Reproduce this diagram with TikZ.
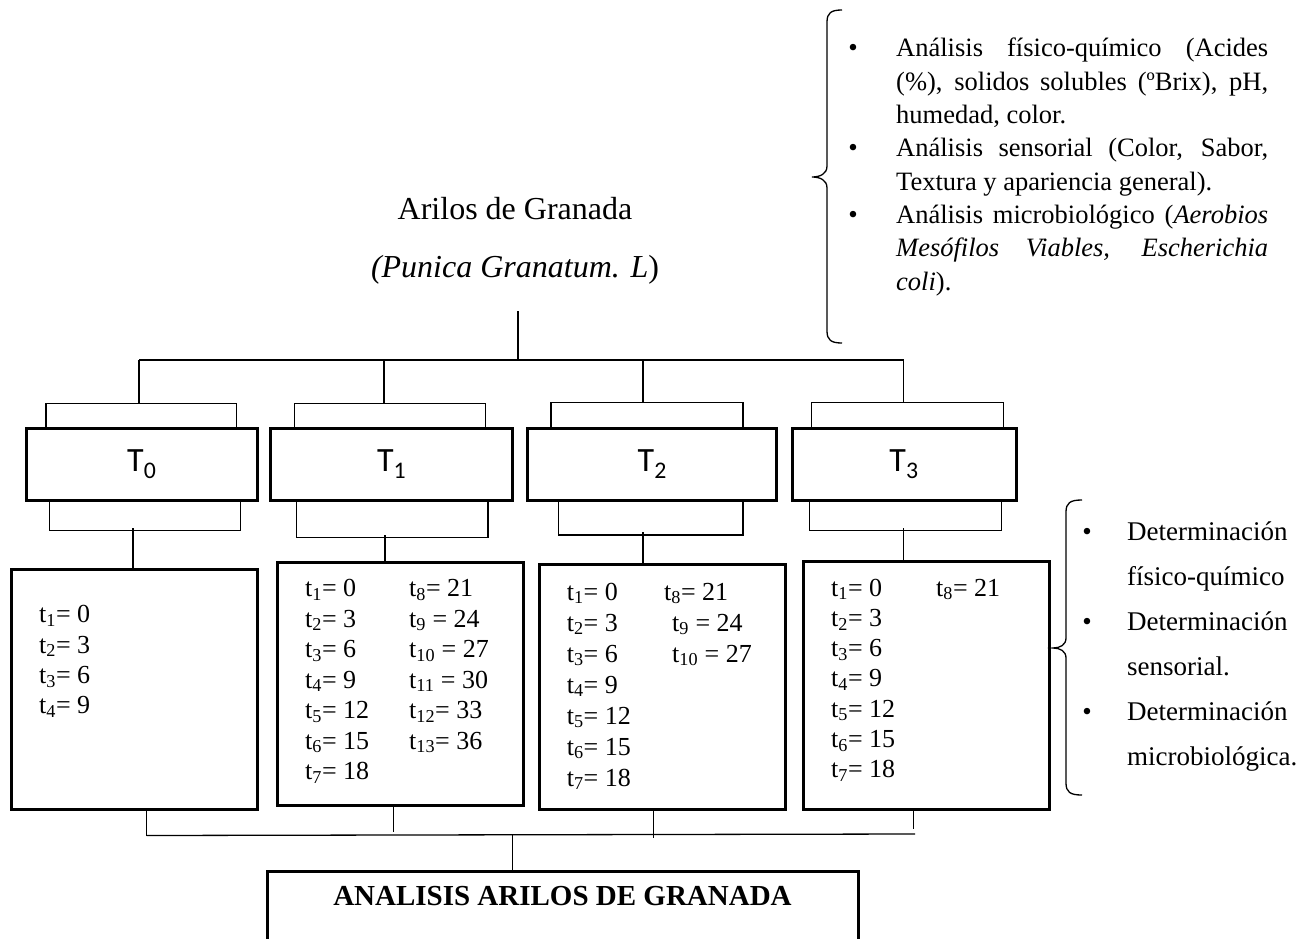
\documentclass[tikz,border=0pt]{standalone}
\usepackage{fontspec}
\setmainfont{Liberation Serif}
\newfontfamily\calibri{Carlito}
\usetikzlibrary{calc}

\tikzset{
  link/.style={line width=1.3pt},
  tbox/.style={draw,line width=3pt,minimum height=72pt,inner sep=0pt,font={\calibri\fontsize{34}{40}\selectfont}},
  lbox/.style={draw,line width=3pt,inner sep=0pt},
  tval/.style={anchor=base west,inner sep=0pt,font={\fontsize{26}{30}\selectfont}},
  bul/.style={anchor=base,inner sep=0pt,font={\fontsize{27}{33}\selectfont}},
  item/.style={anchor=base west,inner sep=0pt,text width=372pt,align=justify,
    font={\fontsize{26.5}{33.3}\selectfont\hyphenpenalty=10000\exhyphenpenalty=10000\tolerance=9999}},
}

\begin{document}
\begin{tikzpicture}[x=1pt,y=-1pt]
    \useasboundingbox (0,0) rectangle (1314,939);
    \node[anchor=base,inner sep=0pt,font={\fontsize{32}{38}\selectfont}] (title) at (515,219) {Arilos de Granada};
    \node[anchor=base,inner sep=0pt,font={\fontsize{32}{38}\selectfont}] (latin) at (515,277) {\textit{(Punica Granatum. L})};

    \node[tbox,minimum width=230.5pt] (T0) at (141.75,464) {T\textsubscript{0}};
    \node[tbox,minimum width=242pt] (T1) at (391.6,464) {T\textsubscript{1}};
    \node[tbox,minimum width=248.9pt] (T2) at (652.25,464) {T\textsubscript{2}};
    \node[tbox,minimum width=224pt] (T3) at (904,464) {T\textsubscript{3}};

    \node[lbox,minimum width=246pt,minimum height=240pt] (L0) at (134,689) {};
    \node[lbox,minimum width=246pt,minimum height=243pt] (L1) at (400,683.5) {};
    \node[lbox,minimum width=246pt,minimum height=245pt] (L2) at (662,686.5) {};
    \node[lbox,minimum width=245.5pt,minimum height=248pt] (L3) at (926.25,685) {};
    \node[lbox,minimum width=591pt,minimum height=140pt,anchor=north] (res) at (562.5,870) {};
    \node[anchor=base,inner sep=0pt,font={\bfseries\fontsize{29}{34}\selectfont}] (restxt) at (562.5,905) {ANALISIS ARILOS DE GRANADA};

    % tiempos
    \foreach \v [count=\i] in {0,3,6,9}
      \node[tval] (v0-\i) at (39,{622.7+30.4*(\i-1)}) {t\textsubscript{\i}= \v};
    \foreach \v [count=\i] in {0,3,6,9,12,15,18}
      \node[tval] (v1-\i) at (305,{596.7+30.5*(\i-1)}) {t\textsubscript{\i}= \v};
    \foreach \i/\v in {8/= 21,9/\ = 24,10/\ = 27,11/\ = 30,12/= 33,13/= 36}
      \node[tval] (w1-\i) at (409,{596.7+30.5*(\i-8)}) {t\textsubscript{\i}\v};
    \foreach \v [count=\i] in {0,3,6,9,12,15,18}
      \node[tval] (v2-\i) at (566.6,{600+31*(\i-1)}) {t\textsubscript{\i}= \v};
    \node[tval] (w2-8) at (664,600) {t\textsubscript{8}= 21};
    \node[tval] (w2-9) at (672,631) {t\textsubscript{9} = 24};
    \node[tval] (w2-10) at (672,662) {t\textsubscript{10} = 27};
    \foreach \v [count=\i] in {0,3,6,9,12,15,18}
      \node[tval] (v3-\i) at (831,{596+30.3*(\i-1)}) {t\textsubscript{\i}= \v};
    \node[tval] (w3-8) at (936,596) {t\textsubscript{8}= 21};

    % arbol
    \coordinate (stem) at (518,311);
    \coordinate (b0) at (139,360);
    \coordinate (b1) at (384,360);
    \coordinate (b2) at (643,360);
    \coordinate (b3) at (903.5,360);
    \draw[link] (b0) -- (b3);
    \draw[link] (stem) -- (stem |- b0);
    \draw[link] ([xshift=21.1]T0.north west) -- ++(0,-23) coordinate (u0) -| ([xshift=-22]T0.north east);
    \draw[link] ([xshift=25.4]T1.north west) -- ++(0,-23) coordinate (u1) -| ([xshift=-28.6]T1.north east);
    \draw[link] ([xshift=24.8]T2.north west) -- ++(0,-24) coordinate (u2) -| ([xshift=-35.2]T2.north east);
    \draw[link] ([xshift=21]T3.north west) -- ++(0,-24) coordinate (u3) -| ([xshift=-14]T3.north east);
    \foreach \k in {0,...,3}
      \draw[link] (b\k) -- (b\k |- u\k);

    \draw[link] ([xshift=24.5]T0.south west) -- ++(0,29) -| ([xshift=-18]T0.south east);
    \draw[link] ([xshift=27.4]T1.south west) -- ++(0,36) -| ([xshift=-26]T1.south east);
    \draw[link] ([xshift=32.2]T2.south west) -- ++(0,33.5) -| ([xshift=-35.2]T2.south east);
    \draw[link] ([xshift=18.7]T3.south west) -- ++(0,29) -| ([xshift=-15.7]T3.south east);
    \draw[link] ([xshift=-1]L0.north) -- ++(0,-40);
    \draw[link] ([xshift=-15]L1.north) -- ++(0,-26);
    \draw[link] ([xshift=-19]L2.north) -- ++(0,-30.5);
    \draw[link] ([xshift=-22.75]L3.north) -- ++(0,-32);

    \draw[link] ([xshift=137]L0.south west) -- ++(0,25) coordinate (e0);
    \draw[link] ([xshift=118]L1.south west) -- ++(0,25);
    \draw[link] ([xshift=116]L2.south west) -- ++(0,27);
    \draw[link] ([xshift=111.5]L3.south west) -- ++(0,18);
    \coordinate (e3) at (915,834);
    \draw[link] (e0) -- (e3);
    \draw[link] ([xshift=-50]res.north) -- ++(0,-36);

    % analisis
    \draw[link] (842,10) .. controls (831,10) and (827,13) .. (827,22) -- (827,166)
      .. controls (827,174) and (820,177) .. (812,177) .. controls (820,177) and (827,180) .. (827,188)
      -- (827,331) .. controls (827,340) and (831,343) .. (842,343);
    \node[bul] (d1) at (853,57) {\textbullet};
    \node[bul] (d2) at (853,157) {\textbullet};
    \node[bul] (d3) at (853,223.5) {\textbullet};
    \node[item] (a1) at (896,57) {Análisis físico-químico (Acides (\%), solidos solubles (ºBrix), pH, humedad, color.};
    \node[item] (a2) at (896,157) {Análisis sensorial (Color, Sabor, Textura y apariencia general).};
    \node[item] (a3) at (896,223.5) {Análisis microbiológico (\textit{Aerobios Mesófilos Viables, Escherichia coli}).};

    \draw[link] (1082,500) .. controls (1070,500) and (1066,503) .. (1066,512) -- (1066,638)
      .. controls (1066,645) and (1060,648) .. (1053,648) .. controls (1060,648) and (1066,651) .. (1066,658)
      -- (1066,783) .. controls (1066,792) and (1070,795) .. (1082,795);
    \foreach \k/\y in {1/540,2/630,3/720}
      \node[bul] (g\k) at (1087,\y) {\textbullet};
    \node[anchor=base west,inner sep=0pt,text width=185pt,align=left,font={\fontsize{27}{45}\selectfont}] (det) at (1127,540)
      {Determinación\\físico-químico\\Determinación\\sensorial.\\Determinación\\microbiológica.};
\end{tikzpicture}
\end{document}
